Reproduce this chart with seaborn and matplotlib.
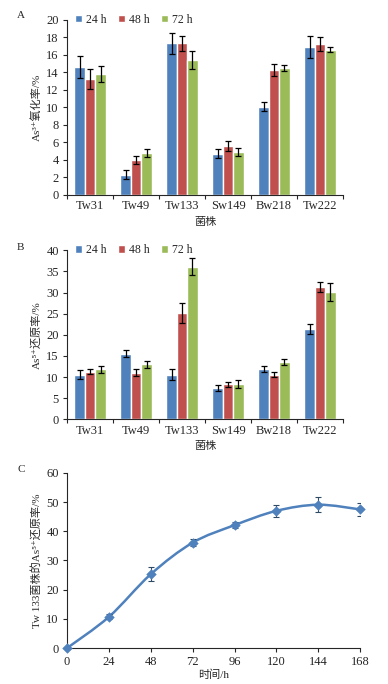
import numpy as np
import pandas as pd
import matplotlib
matplotlib.use('Agg')
import matplotlib.pyplot as plt
from matplotlib.path import Path
from matplotlib.patches import PathPatch
from matplotlib.ticker import FixedLocator
import seaborn as sns

# ---- data ----
strains = ['Tw31', 'Tw49', 'Tw133', 'Sw149', 'Bw218', 'Tw222']
times = ['24 h', '48 h', '72 h']
colors = ['#4F81BD', '#C0504D', '#9BBB59']

# A: As3+ oxidation rate (%)
ox_24 = [14.6, 2.3, 17.3, 4.7, 10.1, 16.9]
ox_48 = [13.2, 4.0, 17.3, 5.6, 14.3, 17.2]
ox_72 = [13.8, 4.8, 15.4, 4.9, 14.5, 16.6]
ox_err_24 = [1.25, 0.5, 1.25, 0.5, 0.55, 1.3]
ox_err_48 = [1.15, 0.45, 0.9, 0.55, 0.7, 0.8]
ox_err_72 = [0.95, 0.45, 1.05, 0.45, 0.3, 0.3]

# B: As5+ reduction rate (%)
red_24 = [10.6, 15.5, 10.6, 7.4, 11.9, 21.3]
red_48 = [11.3, 11.0, 25.1, 8.3, 10.6, 31.3]
red_72 = [11.8, 13.0, 36.1, 8.4, 13.6, 30.1]
red_err_24 = [1.0, 0.8, 1.2, 0.8, 0.65, 1.15]
red_err_48 = [0.5, 0.8, 2.4, 0.55, 0.7, 1.2]
red_err_72 = [0.8, 0.75, 2.0, 1.0, 0.7, 2.2]

# C: Tw133 reduction over time
hours = [0, 24, 48, 72, 96, 120, 144, 168]
tw133_red = [0.0, 10.7, 25.3, 36.1, 42.1, 47.0, 49.1, 47.5]
tw133_err = [0.0, 0.9, 2.3, 1.2, 1.0, 2.0, 2.5, 2.2]

sns.set_style('ticks')
plt.rcParams['font.family'] = ['Liberation Serif', 'Noto Sans CJK SC', 'DejaVu Serif']
plt.rcParams['axes.linewidth'] = 0.8
FS = 9      # tick labels
LFS = 8     # axis titles


def long_df(vals):
    rows = []
    for t, v in zip(times, vals):
        for s, y in zip(strains, v):
            rows.append({'strain': s, 'time': t, 'value': y})
    return pd.DataFrame(rows)


def bar_panel(ax, vals, errs, ymax, ystep, ylabel):
    df = long_df(vals)
    sns.barplot(data=df, x='strain', y='value', hue='time', palette=colors,
                width=0.68, errorbar=None, saturation=1, ax=ax)
    for cont, err in zip(ax.containers, errs):
        xs = [b.get_x() + b.get_width() / 2 for b in cont]
        ys = [b.get_height() for b in cont]
        ax.errorbar(xs, ys, yerr=err, fmt='none', ecolor='black',
                    elinewidth=0.9, capsize=2.2, capthick=0.9)
    ax.set_xlim(-0.5, len(strains) - 0.5)
    ax.set_ylim(0, ymax)
    ax.set_yticks(np.arange(0, ymax + 0.1, ystep))
    ax.xaxis.set_minor_locator(FixedLocator(np.arange(-0.5, len(strains), 1.0)))
    ax.tick_params(axis='x', which='major', length=0, labelsize=FS, pad=4)
    ax.tick_params(axis='x', which='minor', length=3, width=0.8, direction='out')
    ax.tick_params(axis='y', length=3, width=0.8, direction='out', labelsize=FS, pad=3)
    ax.set_xlabel('菌株', fontsize=LFS, labelpad=3)
    ax.set_ylabel(ylabel, fontsize=LFS, labelpad=3)
    sns.despine(ax=ax)
    ax.legend(loc='center left', bbox_to_anchor=(0.03, 1.0), ncol=3, frameon=False,
              fontsize=8.5, handlelength=0.6, handleheight=0.6, columnspacing=1.0,
              handletextpad=0.3, borderaxespad=0, borderpad=0)


fig = plt.figure(figsize=(3.88, 6.84), dpi=100)
axA = fig.add_axes([0.173, 0.715, 0.711, 0.256])
axB = fig.add_axes([0.173, 0.387, 0.711, 0.247])
axC = fig.add_axes([0.173, 0.0526, 0.755, 0.256])

bar_panel(axA, [ox_24, ox_48, ox_72], [ox_err_24, ox_err_48, ox_err_72],
          20, 2, 'As³⁺氧化率/%')
bar_panel(axB, [red_24, red_48, red_72], [red_err_24, red_err_48, red_err_72],
          40, 5, 'As⁵⁺还原率/%')

# C: smoothed line (Catmull-Rom bezier through the measured points)
line_col = '#4F81BD'
pts = np.column_stack([hours, tw133_red]).astype(float)
verts = [tuple(pts[0])]
codes = [Path.MOVETO]
n = len(pts)
for i in range(n - 1):
    p0 = pts[i - 1] if i > 0 else pts[i]
    p1, p2 = pts[i], pts[i + 1]
    p3 = pts[i + 2] if i + 2 < n else pts[i + 1]
    c1 = p1 + (p2 - p0) / 6
    c2 = p2 - (p3 - p1) / 6
    verts += [tuple(c1), tuple(c2), tuple(p2)]
    codes += [Path.CURVE4] * 3
axC.add_patch(PathPatch(Path(verts, codes), facecolor='none', edgecolor=line_col,
                        lw=1.8, clip_on=False, zorder=2))
axC.errorbar(hours, tw133_red, yerr=tw133_err, fmt='none', ecolor='#2f4a66',
             elinewidth=0.8, capsize=2.2, capthick=0.8, zorder=3)
dfc = pd.DataFrame({'hours': hours, 'rate': tw133_red})
sns.scatterplot(data=dfc, x='hours', y='rate', marker='D', s=24, color=line_col,
                edgecolor=line_col, ax=axC, zorder=4, clip_on=False)
axC.set_xlim(0, 168)
axC.set_ylim(0, 60)
axC.set_xticks(hours)
axC.set_yticks(np.arange(0, 61, 10))
axC.tick_params(axis='both', length=3, width=0.8, direction='out', labelsize=FS, pad=3)
axC.tick_params(axis='x', pad=3)
axC.set_xlabel('时间/h', fontsize=LFS, labelpad=1)
axC.set_ylabel('Tw 133菌株的As⁵⁺还原率/%', fontsize=LFS, labelpad=3)
sns.despine(ax=axC)

for lab, y in [('A', 15), ('B', 247), ('C', 469)]:
    fig.text(17 / 388, 1 - y / 684, lab, fontsize=LFS, ha='left', va='center')

fig.savefig('out.png', dpi=100)
